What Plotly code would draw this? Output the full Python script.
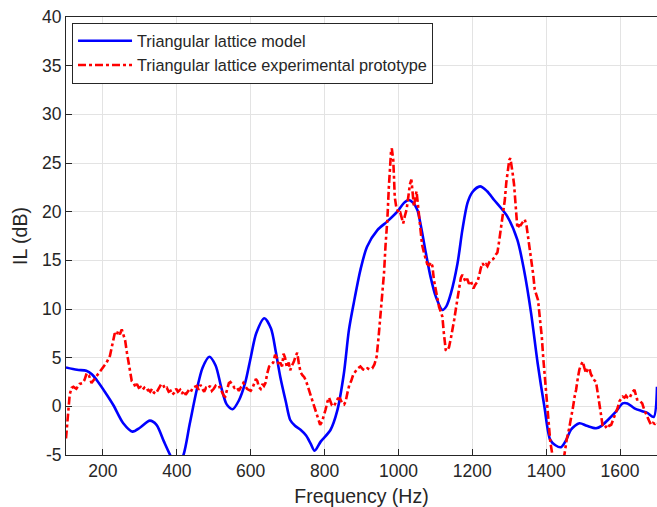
import plotly.graph_objects as go

# ---------------- data ----------------
model_freq = [100, 130, 155, 170, 183, 205, 228, 255, 280, 300, 327, 345, 365, 382, 400, 418, 435,
              454, 470, 488, 505, 520, 535, 551, 568, 585, 600, 615, 637, 655, 668, 680, 695, 707,
              720, 735, 750, 762, 773, 790, 816, 834, 852, 866, 879, 897, 915, 943, 970, 997, 1015,
              1028, 1040, 1051, 1062, 1074, 1087, 1101, 1119, 1130, 1142, 1160, 1173, 1187, 1200,
              1221, 1240, 1259, 1277, 1295, 1322, 1340, 1359, 1377, 1395, 1411, 1425, 1440, 1455,
              1467, 1490, 1510, 1535, 1550, 1567, 1590, 1607, 1620, 1639, 1660, 1675, 1691, 1700]
model_il = [4.0, 3.75, 3.65, 3.3, 2.7, 1.5, 0.14, -1.74, -2.6, -2.2, -1.47, -1.9, -3.6, -5.0, -6.3,
            -5.0, -1.8, 1.7, 4.0, 5.1, 4.2, 2.0, 0.2, -0.3, 0.6, 2.4, 5.0, 7.5, 9.05, 8.0, 5.6, 3.05,
            0.5, -1.4, -2.0, -2.4, -3.0, -3.8, -4.56, -3.6, -2.43, -0.5, 3.3, 7.85, 10.6, 14.0, 16.4,
            18.1, 19.0, 20.0, 20.9, 21.2, 20.9, 20.2, 18.3, 15.8, 13.3, 11.3, 9.9, 10.3, 11.6, 14.7,
            18.1, 20.9, 22.0, 22.6, 22.1, 21.2, 20.4, 19.5, 17.1, 14.0, 9.6, 4.4, 0.0, -3.45, -4.0,
            -4.2, -3.4, -2.4, -1.74, -2.0, -2.25, -2.0, -1.4, -0.5, 0.3, 0.3, -0.2, -0.5, -0.7,
            -1.1, 2.0]

exp_freq = [100, 105, 110, 115, 120, 128, 137, 145, 150, 156, 162, 169, 175, 183, 192, 200, 210,
            219, 226, 232, 237, 241, 246, 251, 255, 260, 265, 269, 274, 278, 283, 288, 292, 297,
            302, 307, 312, 318, 323, 328, 333, 338, 343, 348, 353, 358, 363, 368, 373, 378, 383,
            388, 393, 398, 403, 409, 414, 419, 424, 428, 433, 438, 443, 448, 454, 459, 464, 469,
            474, 479, 484, 490, 495, 500, 505, 510, 517, 522, 527, 531, 536, 541, 545, 550, 556,
            562, 568, 574, 580, 585, 590, 595, 600, 605, 610, 614, 618, 622, 627, 632, 636, 640,
            645, 650, 656, 661, 666, 671, 676, 680, 685, 689, 693, 698, 703, 707, 712, 717, 722,
            726, 730, 735, 740, 745, 750, 755, 761, 766, 772, 778, 783, 788, 793, 798, 803, 808,
            812, 816, 820, 825, 830, 836, 842, 848, 853, 857, 862, 867, 872, 878, 884, 890, 897,
            904, 910, 916, 922, 929, 935, 941, 946, 951, 956, 961, 965, 970, 974, 977, 980, 982,
            984, 986, 988, 990, 994, 997, 1001, 1005, 1009, 1013, 1017, 1022, 1026, 1031, 1035,
            1038, 1042, 1045, 1049, 1052, 1056, 1060, 1064, 1069, 1074, 1078, 1083, 1088, 1092,
            1096, 1101, 1106, 1110, 1115, 1119, 1123, 1128, 1132, 1137, 1142, 1147, 1151, 1155,
            1160, 1164, 1169, 1173, 1177, 1182, 1186, 1191, 1196, 1200, 1203, 1208, 1214, 1219,
            1223, 1228, 1232, 1237, 1241, 1246, 1250, 1255, 1260, 1264, 1268, 1272, 1277, 1282,
            1288, 1292, 1297, 1300, 1303, 1306, 1309, 1313, 1316, 1319, 1322, 1327, 1331, 1336,
            1342, 1347, 1351, 1356, 1360, 1365, 1369, 1374, 1378, 1383, 1388, 1392, 1397, 1401,
            1406, 1411, 1416, 1422, 1428, 1434, 1440, 1446, 1451, 1456, 1462, 1467, 1473, 1477,
            1481, 1486, 1490, 1495, 1499, 1503, 1508, 1512, 1517, 1521, 1526, 1530, 1535, 1540,
            1544, 1549, 1553, 1558, 1562, 1567, 1571, 1576, 1580, 1585, 1589, 1594, 1598, 1603,
            1607, 1612, 1616, 1620, 1625, 1630, 1634, 1639, 1643, 1646, 1650, 1655, 1660, 1665,
            1670, 1675, 1680, 1684, 1689, 1694, 1698, 1700]
exp_il = [-3.3, -1.0, 1.2, 1.9, 2.0, 1.8, 2.3, 2.4, 2.7, 3.4, 3.2, 2.4, 2.7, 3.2, 3.6, 4.0, 4.5,
          5.2, 6.4, 7.5, 7.3, 7.7, 7.4, 7.9, 7.4, 6.8, 5.5, 4.7, 3.4, 2.6, 2.4, 2.0, 2.3, 1.9,
          2.0, 1.7, 1.9, 1.6, 1.7, 1.5, 1.8, 1.4, 1.3, 1.6, 1.9, 2.3, 2.2, 1.8, 1.9, 1.5, 1.6,
          1.2, 1.4, 1.8, 1.5, 1.7, 1.3, 1.6, 1.2, 1.4, 1.7, 1.5, 1.9, 2.0, 2.1, 1.7, 2.2, 1.8,
          1.5, 1.9, 1.8, 2.1, 1.6, 1.8, 2.1, 1.9, 2.0, 1.5, 1.1, 1.0, 1.8, 2.4, 2.5, 2.2, 1.9,
          2.0, 1.6, 2.0, 2.4, 2.1, 1.8, 1.7, 1.6, 1.9, 2.4, 2.8, 2.6, 2.0, 1.8, 2.3, 2.1, 2.4,
          3.4, 4.1, 4.3, 4.5, 5.3, 5.0, 4.2, 4.5, 4.1, 5.4, 5.0, 4.0, 4.5, 3.7, 4.2, 4.6, 5.2,
          5.5, 4.5, 3.5, 3.2, 3.0, 2.6, 2.0, 1.3, 0.5, -0.2, -0.8, -1.4, -1.9, -1.6, -1.0, -0.3,
          0.5, 0.9, 0.5, 0.1, 0.0, 0.4, 0.8, 0.8, 0.3, 0.2, 0.5, 1.4, 2.2, 2.6, 3.3, 3.6, 3.9,
          4.1, 3.8, 3.7, 3.9, 3.8, 3.9, 4.3, 5.1, 7.0, 9.2, 11.5, 13.7, 16.5, 19.2, 22.5, 25.0,
          26.2, 26.5, 26.0, 25.3, 23.5, 21.5, 20.5, 20.2, 19.8, 19.9, 19.3, 18.8, 19.5, 20.2,
          21.3, 22.8, 23.3, 22.0, 20.5, 21.3, 22.1, 21.0, 19.5, 17.8, 16.6, 15.8, 15.0, 14.6,
          14.5, 14.8, 14.4, 13.0, 12.0, 11.0, 10.2, 9.7, 9.2, 7.5, 5.8, 5.7, 6.1, 7.0, 7.9, 8.9,
          9.9, 11.2, 12.3, 13.2, 13.5, 13.1, 12.8, 13.1, 12.6, 12.9, 12.4, 12.1, 12.5, 12.8,
          13.5, 14.2, 14.7, 14.4, 14.6, 14.4, 14.8, 15.0, 15.1, 15.3, 15.6, 15.8, 16.8, 18.1,
          19.6, 21.2, 23.0, 24.6, 25.3, 25.5, 24.9, 24.0, 22.8, 21.5, 19.8, 18.3, 18.6, 18.6,
          18.9, 19.2, 18.5, 17.4, 16.2, 15.0, 13.5, 12.0, 11.3, 10.9, 9.0, 7.2, 5.0, 2.7, 0.5,
          -1.7, -3.6, -4.8, -5.8, -6.7, -7.2, -6.8, -5.8, -4.5, -3.3, -2.3, -1.4, 0.0, 1.0, 1.7,
          3.0, 3.8, 4.3, 4.6, 4.0, 3.4, 3.8, 3.9, 3.3, 2.9, 2.7, 2.5, 1.4, 0.3, -1.0, -2.1, -2.2,
          -2.1, -1.8, -2.0, -1.9, -1.5, -1.0, -0.7, -0.1, 0.5, 0.8, 1.0, 0.9, 1.1, 0.9, 0.8, 1.2,
          1.5, 1.7, 1.2, 0.7, 0.7, 0.5, 0.3, -0.3, -0.8, -1.2, -1.6, -1.9, -1.7, -1.8, -1.6, -1.7]

x_tickvals = [200, 400, 600, 800, 1000, 1200, 1400, 1600]
x_ticktext = ["200", "400", "600", "800", "1000", "1200", "1400", "1600"]
y_tickvals = [-5, 0, 5, 10, 15, 20, 25, 30, 35, 40]
y_ticktext = ["-5", "0", "5", "10", "15", "20", "25", "30", "35", "40"]

series_names = ["Triangular lattice model", "Triangular lattice experimental prototype"]

# ---------------- figure ----------------
FONT = "Liberation Sans, Arial, Helvetica, sans-serif"
AX = "#262626"

fig = go.Figure()
fig.add_trace(go.Scatter(
    x=model_freq, y=model_il, mode="lines", name=series_names[0],
    line=dict(color="#0000ff", width=2.6, shape="spline", smoothing=0.8)))
fig.add_trace(go.Scatter(
    x=exp_freq, y=exp_il, mode="lines", name=series_names[1],
    line=dict(color="#ff0000", width=2.6, dash="8px,3px,3px,3px")))

axis_common = dict(
    showline=True, linecolor=AX, linewidth=1, mirror=True,
    ticks="inside", ticklen=6, tickcolor=AX, tickwidth=1,
    showgrid=True, gridcolor="#e3e3e3", gridwidth=1, zeroline=False,
    tickfont=dict(family=FONT, size=17.5, color=AX),
)

fig.update_layout(
    width=657, height=507,
    margin=dict(l=66, r=0, t=17, b=52),
    paper_bgcolor="white", plot_bgcolor="white",
    font=dict(family=FONT, color=AX),
    xaxis=dict(range=[100, 1700], tickvals=x_tickvals, ticktext=x_ticktext,
               title=dict(text="Frequency (Hz)", font=dict(family=FONT, size=19.5, color=AX),
                          standoff=9),
               **axis_common),
    yaxis=dict(range=[-5, 40], tickvals=y_tickvals, ticktext=y_ticktext,
               title=dict(text="IL (dB)", font=dict(family=FONT, size=19.5, color=AX),
                          standoff=9),
               **axis_common),
    legend=dict(x=0.0102, y=0.987, xanchor="left", yanchor="top",
                bgcolor="white", bordercolor=AX, borderwidth=1,
                font=dict(family=FONT, size=16.3, color=AX),
                itemwidth=54, tracegroupgap=0),
    showlegend=True,
)

fig.write_html("out.html")
